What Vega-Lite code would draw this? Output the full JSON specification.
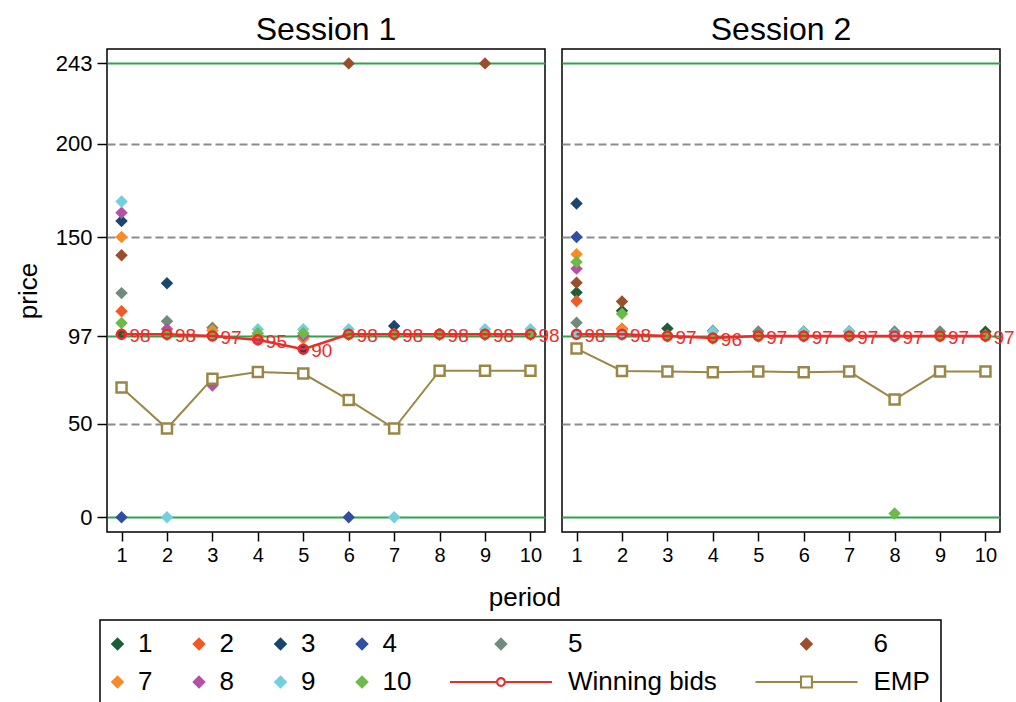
{
  "$schema": "https://vega.github.io/schema/vega-lite/v6.json",
  "background": "white",
  "padding": {"left": 15, "top": 14, "right": 5, "bottom": 0},
  "bounds": "flush",
  "config": {
    "font": "Liberation Sans",
    "view": {"stroke": "#000000", "strokeWidth": 1.5},
    "axis": {"domain": false, "tickColor": "#000000", "tickWidth": 1.5, "labelColor": "#000000", "titleColor": "#000000", "labelFont": "Liberation Sans", "titleFont": "Liberation Sans", "titleFontWeight": "normal"},
    "legend": {
      "orient": "none", "legendX": -7, "legendY": 571, "direction": "horizontal", "columns": 6, "columnPadding": 38.5, "rowPadding": 12, "padding": 11,
      "strokeColor": "#000000", "strokeWidth": 1.5, "fillColor": "white",
      "labelFont": "Liberation Sans", "labelFontSize": 26, "labelColor": "#000000", "labelOffset": 1, "labelLimit": 400,
      "symbolSize": 676, "symbolStrokeWidth": 0, "symbolOpacity": 1, "gridAlign": "each"
    }
  },
  "data": {"values": [
    {"session":"Session 1","period":1,"series":"1","kind":"bid","price":98},
    {"session":"Session 1","period":1,"series":"2","kind":"bid","price":110.3},
    {"session":"Session 1","period":1,"series":"3","kind":"bid","price":158.6},
    {"session":"Session 1","period":1,"series":"4","kind":"bid","price":0},
    {"session":"Session 1","period":1,"series":"5","kind":"bid","price":120},
    {"session":"Session 1","period":1,"series":"6","kind":"bid","price":140.3},
    {"session":"Session 1","period":1,"series":"7","kind":"bid","price":150},
    {"session":"Session 1","period":1,"series":"8","kind":"bid","price":163},
    {"session":"Session 1","period":1,"series":"9","kind":"bid","price":169},
    {"session":"Session 1","period":1,"series":"10","kind":"bid","price":104},
    {"session":"Session 1","period":2,"series":"1","kind":"bid","price":98},
    {"session":"Session 1","period":2,"series":"2","kind":"bid","price":98},
    {"session":"Session 1","period":2,"series":"3","kind":"bid","price":125.3},
    {"session":"Session 1","period":2,"series":"4","kind":"bid","price":98},
    {"session":"Session 1","period":2,"series":"5","kind":"bid","price":105},
    {"session":"Session 1","period":2,"series":"6","kind":"bid","price":98},
    {"session":"Session 1","period":2,"series":"7","kind":"bid","price":98},
    {"session":"Session 1","period":2,"series":"8","kind":"bid","price":100.8},
    {"session":"Session 1","period":2,"series":"9","kind":"bid","price":0},
    {"session":"Session 1","period":2,"series":"10","kind":"bid","price":98},
    {"session":"Session 1","period":3,"series":"1","kind":"bid","price":97.5},
    {"session":"Session 1","period":3,"series":"2","kind":"bid","price":97.5},
    {"session":"Session 1","period":3,"series":"3","kind":"bid","price":97.5},
    {"session":"Session 1","period":3,"series":"4","kind":"bid","price":97.5},
    {"session":"Session 1","period":3,"series":"5","kind":"bid","price":101.5},
    {"session":"Session 1","period":3,"series":"6","kind":"bid","price":97.5},
    {"session":"Session 1","period":3,"series":"7","kind":"bid","price":100},
    {"session":"Session 1","period":3,"series":"8","kind":"bid","price":70.5},
    {"session":"Session 1","period":3,"series":"9","kind":"bid","price":97.5},
    {"session":"Session 1","period":3,"series":"10","kind":"bid","price":98},
    {"session":"Session 1","period":4,"series":"1","kind":"bid","price":97},
    {"session":"Session 1","period":4,"series":"2","kind":"bid","price":97},
    {"session":"Session 1","period":4,"series":"3","kind":"bid","price":97},
    {"session":"Session 1","period":4,"series":"4","kind":"bid","price":97},
    {"session":"Session 1","period":4,"series":"5","kind":"bid","price":97},
    {"session":"Session 1","period":4,"series":"6","kind":"bid","price":97},
    {"session":"Session 1","period":4,"series":"7","kind":"bid","price":97},
    {"session":"Session 1","period":4,"series":"8","kind":"bid","price":95},
    {"session":"Session 1","period":4,"series":"9","kind":"bid","price":100.6},
    {"session":"Session 1","period":4,"series":"10","kind":"bid","price":98.5},
    {"session":"Session 1","period":5,"series":"1","kind":"bid","price":97},
    {"session":"Session 1","period":5,"series":"2","kind":"bid","price":97},
    {"session":"Session 1","period":5,"series":"3","kind":"bid","price":90},
    {"session":"Session 1","period":5,"series":"4","kind":"bid","price":97},
    {"session":"Session 1","period":5,"series":"5","kind":"bid","price":97},
    {"session":"Session 1","period":5,"series":"6","kind":"bid","price":97},
    {"session":"Session 1","period":5,"series":"7","kind":"bid","price":95.5},
    {"session":"Session 1","period":5,"series":"8","kind":"bid","price":97},
    {"session":"Session 1","period":5,"series":"9","kind":"bid","price":100.6},
    {"session":"Session 1","period":5,"series":"10","kind":"bid","price":98.5},
    {"session":"Session 1","period":6,"series":"1","kind":"bid","price":98},
    {"session":"Session 1","period":6,"series":"2","kind":"bid","price":98},
    {"session":"Session 1","period":6,"series":"3","kind":"bid","price":98},
    {"session":"Session 1","period":6,"series":"4","kind":"bid","price":0},
    {"session":"Session 1","period":6,"series":"5","kind":"bid","price":98},
    {"session":"Session 1","period":6,"series":"6","kind":"bid","price":243},
    {"session":"Session 1","period":6,"series":"7","kind":"bid","price":98},
    {"session":"Session 1","period":6,"series":"8","kind":"bid","price":98},
    {"session":"Session 1","period":6,"series":"9","kind":"bid","price":100.6},
    {"session":"Session 1","period":6,"series":"10","kind":"bid","price":98},
    {"session":"Session 1","period":7,"series":"1","kind":"bid","price":98},
    {"session":"Session 1","period":7,"series":"2","kind":"bid","price":98},
    {"session":"Session 1","period":7,"series":"3","kind":"bid","price":102.4},
    {"session":"Session 1","period":7,"series":"4","kind":"bid","price":98},
    {"session":"Session 1","period":7,"series":"5","kind":"bid","price":98},
    {"session":"Session 1","period":7,"series":"6","kind":"bid","price":98},
    {"session":"Session 1","period":7,"series":"7","kind":"bid","price":98},
    {"session":"Session 1","period":7,"series":"8","kind":"bid","price":98},
    {"session":"Session 1","period":7,"series":"9","kind":"bid","price":0},
    {"session":"Session 1","period":7,"series":"10","kind":"bid","price":98},
    {"session":"Session 1","period":8,"series":"1","kind":"bid","price":98},
    {"session":"Session 1","period":8,"series":"2","kind":"bid","price":98},
    {"session":"Session 1","period":8,"series":"3","kind":"bid","price":98},
    {"session":"Session 1","period":8,"series":"4","kind":"bid","price":98},
    {"session":"Session 1","period":8,"series":"5","kind":"bid","price":98},
    {"session":"Session 1","period":8,"series":"6","kind":"bid","price":98},
    {"session":"Session 1","period":8,"series":"7","kind":"bid","price":98},
    {"session":"Session 1","period":8,"series":"8","kind":"bid","price":98},
    {"session":"Session 1","period":8,"series":"9","kind":"bid","price":98},
    {"session":"Session 1","period":8,"series":"10","kind":"bid","price":98},
    {"session":"Session 1","period":9,"series":"1","kind":"bid","price":98},
    {"session":"Session 1","period":9,"series":"2","kind":"bid","price":98},
    {"session":"Session 1","period":9,"series":"3","kind":"bid","price":98},
    {"session":"Session 1","period":9,"series":"4","kind":"bid","price":98},
    {"session":"Session 1","period":9,"series":"5","kind":"bid","price":98},
    {"session":"Session 1","period":9,"series":"6","kind":"bid","price":243},
    {"session":"Session 1","period":9,"series":"7","kind":"bid","price":98},
    {"session":"Session 1","period":9,"series":"8","kind":"bid","price":98},
    {"session":"Session 1","period":9,"series":"9","kind":"bid","price":100.6},
    {"session":"Session 1","period":9,"series":"10","kind":"bid","price":98},
    {"session":"Session 1","period":10,"series":"1","kind":"bid","price":98},
    {"session":"Session 1","period":10,"series":"2","kind":"bid","price":98},
    {"session":"Session 1","period":10,"series":"3","kind":"bid","price":98},
    {"session":"Session 1","period":10,"series":"4","kind":"bid","price":98},
    {"session":"Session 1","period":10,"series":"5","kind":"bid","price":98},
    {"session":"Session 1","period":10,"series":"6","kind":"bid","price":98},
    {"session":"Session 1","period":10,"series":"7","kind":"bid","price":98},
    {"session":"Session 1","period":10,"series":"8","kind":"bid","price":98},
    {"session":"Session 1","period":10,"series":"9","kind":"bid","price":100.6},
    {"session":"Session 1","period":10,"series":"10","kind":"bid","price":98},
    {"session":"Session 2","period":1,"series":"1","kind":"bid","price":120.3},
    {"session":"Session 2","period":1,"series":"2","kind":"bid","price":115.8},
    {"session":"Session 2","period":1,"series":"3","kind":"bid","price":168},
    {"session":"Session 2","period":1,"series":"4","kind":"bid","price":150},
    {"session":"Session 2","period":1,"series":"5","kind":"bid","price":104.2},
    {"session":"Session 2","period":1,"series":"6","kind":"bid","price":125.6},
    {"session":"Session 2","period":1,"series":"7","kind":"bid","price":140.8},
    {"session":"Session 2","period":1,"series":"8","kind":"bid","price":133.1},
    {"session":"Session 2","period":1,"series":"9","kind":"bid","price":98},
    {"session":"Session 2","period":1,"series":"10","kind":"bid","price":136.7},
    {"session":"Session 2","period":2,"series":"1","kind":"bid","price":110.5},
    {"session":"Session 2","period":2,"series":"2","kind":"bid","price":101},
    {"session":"Session 2","period":2,"series":"3","kind":"bid","price":98},
    {"session":"Session 2","period":2,"series":"4","kind":"bid","price":98},
    {"session":"Session 2","period":2,"series":"5","kind":"bid","price":98},
    {"session":"Session 2","period":2,"series":"6","kind":"bid","price":115.5},
    {"session":"Session 2","period":2,"series":"7","kind":"bid","price":100.5},
    {"session":"Session 2","period":2,"series":"8","kind":"bid","price":98},
    {"session":"Session 2","period":2,"series":"9","kind":"bid","price":98},
    {"session":"Session 2","period":2,"series":"10","kind":"bid","price":109},
    {"session":"Session 2","period":3,"series":"1","kind":"bid","price":101},
    {"session":"Session 2","period":3,"series":"2","kind":"bid","price":97},
    {"session":"Session 2","period":3,"series":"3","kind":"bid","price":97},
    {"session":"Session 2","period":3,"series":"4","kind":"bid","price":97},
    {"session":"Session 2","period":3,"series":"5","kind":"bid","price":97},
    {"session":"Session 2","period":3,"series":"6","kind":"bid","price":97},
    {"session":"Session 2","period":3,"series":"7","kind":"bid","price":97},
    {"session":"Session 2","period":3,"series":"8","kind":"bid","price":97},
    {"session":"Session 2","period":3,"series":"9","kind":"bid","price":97},
    {"session":"Session 2","period":3,"series":"10","kind":"bid","price":97},
    {"session":"Session 2","period":4,"series":"1","kind":"bid","price":96},
    {"session":"Session 2","period":4,"series":"2","kind":"bid","price":96},
    {"session":"Session 2","period":4,"series":"3","kind":"bid","price":96},
    {"session":"Session 2","period":4,"series":"4","kind":"bid","price":96},
    {"session":"Session 2","period":4,"series":"5","kind":"bid","price":99.8},
    {"session":"Session 2","period":4,"series":"6","kind":"bid","price":96},
    {"session":"Session 2","period":4,"series":"7","kind":"bid","price":96},
    {"session":"Session 2","period":4,"series":"8","kind":"bid","price":96},
    {"session":"Session 2","period":4,"series":"9","kind":"bid","price":99.3},
    {"session":"Session 2","period":4,"series":"10","kind":"bid","price":96},
    {"session":"Session 2","period":5,"series":"1","kind":"bid","price":97},
    {"session":"Session 2","period":5,"series":"2","kind":"bid","price":97},
    {"session":"Session 2","period":5,"series":"3","kind":"bid","price":97},
    {"session":"Session 2","period":5,"series":"4","kind":"bid","price":97},
    {"session":"Session 2","period":5,"series":"5","kind":"bid","price":99.5},
    {"session":"Session 2","period":5,"series":"6","kind":"bid","price":97},
    {"session":"Session 2","period":5,"series":"7","kind":"bid","price":97},
    {"session":"Session 2","period":5,"series":"8","kind":"bid","price":97},
    {"session":"Session 2","period":5,"series":"9","kind":"bid","price":97},
    {"session":"Session 2","period":5,"series":"10","kind":"bid","price":97},
    {"session":"Session 2","period":6,"series":"1","kind":"bid","price":97},
    {"session":"Session 2","period":6,"series":"2","kind":"bid","price":97},
    {"session":"Session 2","period":6,"series":"3","kind":"bid","price":97},
    {"session":"Session 2","period":6,"series":"4","kind":"bid","price":97},
    {"session":"Session 2","period":6,"series":"5","kind":"bid","price":99.5},
    {"session":"Session 2","period":6,"series":"6","kind":"bid","price":97},
    {"session":"Session 2","period":6,"series":"7","kind":"bid","price":97},
    {"session":"Session 2","period":6,"series":"8","kind":"bid","price":97},
    {"session":"Session 2","period":6,"series":"9","kind":"bid","price":99},
    {"session":"Session 2","period":6,"series":"10","kind":"bid","price":97},
    {"session":"Session 2","period":7,"series":"1","kind":"bid","price":97},
    {"session":"Session 2","period":7,"series":"2","kind":"bid","price":97},
    {"session":"Session 2","period":7,"series":"3","kind":"bid","price":97},
    {"session":"Session 2","period":7,"series":"4","kind":"bid","price":97},
    {"session":"Session 2","period":7,"series":"5","kind":"bid","price":99.6},
    {"session":"Session 2","period":7,"series":"6","kind":"bid","price":97},
    {"session":"Session 2","period":7,"series":"7","kind":"bid","price":97},
    {"session":"Session 2","period":7,"series":"8","kind":"bid","price":97},
    {"session":"Session 2","period":7,"series":"9","kind":"bid","price":99.3},
    {"session":"Session 2","period":7,"series":"10","kind":"bid","price":97},
    {"session":"Session 2","period":8,"series":"1","kind":"bid","price":97},
    {"session":"Session 2","period":8,"series":"2","kind":"bid","price":97},
    {"session":"Session 2","period":8,"series":"3","kind":"bid","price":97},
    {"session":"Session 2","period":8,"series":"4","kind":"bid","price":97},
    {"session":"Session 2","period":8,"series":"5","kind":"bid","price":99.5},
    {"session":"Session 2","period":8,"series":"6","kind":"bid","price":97},
    {"session":"Session 2","period":8,"series":"7","kind":"bid","price":97},
    {"session":"Session 2","period":8,"series":"8","kind":"bid","price":97},
    {"session":"Session 2","period":8,"series":"9","kind":"bid","price":98},
    {"session":"Session 2","period":8,"series":"10","kind":"bid","price":2},
    {"session":"Session 2","period":9,"series":"1","kind":"bid","price":97},
    {"session":"Session 2","period":9,"series":"2","kind":"bid","price":97},
    {"session":"Session 2","period":9,"series":"3","kind":"bid","price":97},
    {"session":"Session 2","period":9,"series":"4","kind":"bid","price":97},
    {"session":"Session 2","period":9,"series":"5","kind":"bid","price":99.5},
    {"session":"Session 2","period":9,"series":"6","kind":"bid","price":97},
    {"session":"Session 2","period":9,"series":"7","kind":"bid","price":97},
    {"session":"Session 2","period":9,"series":"8","kind":"bid","price":97},
    {"session":"Session 2","period":9,"series":"9","kind":"bid","price":97},
    {"session":"Session 2","period":9,"series":"10","kind":"bid","price":97},
    {"session":"Session 2","period":10,"series":"1","kind":"bid","price":99.3},
    {"session":"Session 2","period":10,"series":"2","kind":"bid","price":97},
    {"session":"Session 2","period":10,"series":"3","kind":"bid","price":97},
    {"session":"Session 2","period":10,"series":"4","kind":"bid","price":97},
    {"session":"Session 2","period":10,"series":"5","kind":"bid","price":97},
    {"session":"Session 2","period":10,"series":"6","kind":"bid","price":97},
    {"session":"Session 2","period":10,"series":"7","kind":"bid","price":97},
    {"session":"Session 2","period":10,"series":"8","kind":"bid","price":97},
    {"session":"Session 2","period":10,"series":"9","kind":"bid","price":97},
    {"session":"Session 2","period":10,"series":"10","kind":"bid","price":97.5},
    {"session":"Session 1","period":1,"series":"Winning bids","kind":"win","price":98},
    {"session":"Session 1","period":2,"series":"Winning bids","kind":"win","price":98},
    {"session":"Session 1","period":3,"series":"Winning bids","kind":"win","price":97},
    {"session":"Session 1","period":4,"series":"Winning bids","kind":"win","price":95},
    {"session":"Session 1","period":5,"series":"Winning bids","kind":"win","price":90},
    {"session":"Session 1","period":6,"series":"Winning bids","kind":"win","price":98},
    {"session":"Session 1","period":7,"series":"Winning bids","kind":"win","price":98},
    {"session":"Session 1","period":8,"series":"Winning bids","kind":"win","price":98},
    {"session":"Session 1","period":9,"series":"Winning bids","kind":"win","price":98},
    {"session":"Session 1","period":10,"series":"Winning bids","kind":"win","price":98},
    {"session":"Session 2","period":1,"series":"Winning bids","kind":"win","price":98},
    {"session":"Session 2","period":2,"series":"Winning bids","kind":"win","price":98},
    {"session":"Session 2","period":3,"series":"Winning bids","kind":"win","price":97},
    {"session":"Session 2","period":4,"series":"Winning bids","kind":"win","price":96},
    {"session":"Session 2","period":5,"series":"Winning bids","kind":"win","price":97},
    {"session":"Session 2","period":6,"series":"Winning bids","kind":"win","price":97},
    {"session":"Session 2","period":7,"series":"Winning bids","kind":"win","price":97},
    {"session":"Session 2","period":8,"series":"Winning bids","kind":"win","price":97},
    {"session":"Session 2","period":9,"series":"Winning bids","kind":"win","price":97},
    {"session":"Session 2","period":10,"series":"Winning bids","kind":"win","price":97},
    {"session":"Session 1","period":1,"series":"EMP","kind":"emp","price":69.5},
    {"session":"Session 1","period":2,"series":"EMP","kind":"emp","price":47.5},
    {"session":"Session 1","period":3,"series":"EMP","kind":"emp","price":74.2},
    {"session":"Session 1","period":4,"series":"EMP","kind":"emp","price":77.8},
    {"session":"Session 1","period":5,"series":"EMP","kind":"emp","price":76.9},
    {"session":"Session 1","period":6,"series":"EMP","kind":"emp","price":62.8},
    {"session":"Session 1","period":7,"series":"EMP","kind":"emp","price":47.5},
    {"session":"Session 1","period":8,"series":"EMP","kind":"emp","price":78.5},
    {"session":"Session 1","period":9,"series":"EMP","kind":"emp","price":78.5},
    {"session":"Session 1","period":10,"series":"EMP","kind":"emp","price":78.5},
    {"session":"Session 2","period":1,"series":"EMP","kind":"emp","price":90.3},
    {"session":"Session 2","period":2,"series":"EMP","kind":"emp","price":78.3},
    {"session":"Session 2","period":3,"series":"EMP","kind":"emp","price":78},
    {"session":"Session 2","period":4,"series":"EMP","kind":"emp","price":77.6},
    {"session":"Session 2","period":5,"series":"EMP","kind":"emp","price":78},
    {"session":"Session 2","period":6,"series":"EMP","kind":"emp","price":77.6},
    {"session":"Session 2","period":7,"series":"EMP","kind":"emp","price":78},
    {"session":"Session 2","period":8,"series":"EMP","kind":"emp","price":63},
    {"session":"Session 2","period":9,"series":"EMP","kind":"emp","price":78},
    {"session":"Session 2","period":10,"series":"EMP","kind":"emp","price":78}
  ]},
  "facet": {"column": {"field": "session", "type": "nominal", "header": {
    "title": "period", "titleOrient": "bottom", "titleFontSize": 26, "titleFont": "Liberation Sans", "titleFontWeight": "normal", "titleColor": "#000000", "titleAnchor": "middle", "titleAlign": "right", "titlePadding": 10,
    "labelFontSize": 32, "labelFont": "Liberation Sans", "labelColor": "#000000", "labelOrient": "top", "labelPadding": 2
  }}},
  "spacing": 17,
  "spec": {
    "width": 438,
    "height": 483,
    "encoding": {
      "x": {"field": "period", "type": "quantitative", "scale": {"domain": [0.68, 10.32], "nice": false, "zero": false},
        "axis": {"values": [1,2,3,4,5,6,7,8,9,10], "format": "d", "title": null, "labelFontSize": 20, "tickSize": 9, "labelPadding": 4, "grid": false}},
      "y": {"field": "price", "type": "quantitative", "scale": {"domain": [-7.9, 250.7], "nice": false, "zero": false},
        "axis": {"values": [0, 50, 97, 150, 200, 243], "title": "price", "titleFontSize": 26, "labelFontSize": 22, "tickSize": 10, "labelPadding": 5, "titlePadding": 14, "grid": true,
          "gridColor": {"condition": {"test": "datum.value === 0 || datum.value === 97 || datum.value === 243", "value": "#2fa24e"}, "value": "#8c8c8c"},
          "gridDash": {"condition": {"test": "datum.value === 0 || datum.value === 97 || datum.value === 243", "value": []}, "value": [8, 4]},
          "gridWidth": 2}}
    },
    "layer": [
      {
        "transform": [{"filter": "datum.kind === 'legendonly'"}],
        "mark": {"type": "point", "filled": true, "opacity": 1},
        "encoding": {
          "color": {"field": "series", "type": "nominal",
            "scale": {"domain": ["1","2","3","4","5","6","7","8","9","10","Winning bids","EMP"],
              "range": ["#1b5e37","#f15a25","#19466e","#2f4fa3","#6e8b7d","#9b4e2b","#f98a26","#b451a5","#72cfdf","#6cbb46","#ee2b27","#9b8745"]},
            "legend": {"title": null}},
          "shape": {"field": "series", "type": "nominal",
            "scale": {"domain": ["1","2","3","4","5","6","7","8","9","10","Winning bids","EMP"],
              "range": [
                "M-0.5,-0.52L0.02,0L-0.5,0.52L-1.02,0Z",
                "M-0.5,-0.52L0.02,0L-0.5,0.52L-1.02,0Z",
                "M-0.5,-0.52L0.02,0L-0.5,0.52L-1.02,0Z",
                "M-0.5,-0.52L0.02,0L-0.5,0.52L-1.02,0Z",
                "M-4.08,-0.52L-3.56,0L-4.08,0.52L-4.6,0Z",
                "M-4.08,-0.52L-3.56,0L-4.08,0.52L-4.6,0Z",
                "M-0.5,-0.52L0.02,0L-0.5,0.52L-1.02,0Z",
                "M-0.5,-0.52L0.02,0L-0.5,0.52L-1.02,0Z",
                "M-0.5,-0.52L0.02,0L-0.5,0.52L-1.02,0Z",
                "M-0.5,-0.52L0.02,0L-0.5,0.52L-1.02,0Z",
                "M-8,-0.075L-4.46,-0.075L-4.46,0.075L-8,0.075Z M-3.7,-0.075L-0.15,-0.075L-0.15,0.075L-3.7,0.075Z M-3.7,0A0.38,0.38,0,1,1,-4.46,0A0.38,0.38,0,1,1,-3.7,0Z M-3.86,0A0.22,0.22,0,1,0,-4.3,0A0.22,0.22,0,1,0,-3.86,0Z",
                "M-8,-0.07L-4.58,-0.07L-4.58,0.07L-8,0.07Z M-3.58,-0.07L-0.15,-0.07L-0.15,0.07L-3.58,0.07Z M-4.58,-0.5L-3.58,-0.5L-3.58,0.5L-4.58,0.5Z M-4.42,-0.34L-4.42,0.34L-3.74,0.34L-3.74,-0.34Z"
              ]},
            "legend": {"title": null}}
        }
      },
      {
        "transform": [{"filter": "datum.kind === 'bid'"}],
        "mark": {"type": "point", "shape": "diamond", "filled": true, "size": 155, "opacity": 1, "strokeWidth": 0},
        "encoding": {
          "color": {"field": "series", "type": "nominal",
            "scale": {"domain": ["1","2","3","4","5","6","7","8","9","10","Winning bids","EMP"],
              "range": ["#1b5e37","#f15a25","#19466e","#2f4fa3","#6e8b7d","#9b4e2b","#f98a26","#b451a5","#72cfdf","#6cbb46","#ee2b27","#9b8745"]},
            "legend": {"title": null}}
        }
      },
      {
        "transform": [{"filter": "datum.kind === 'win'"}],
        "mark": {"type": "line", "color": "#ee2b27", "strokeWidth": 2.5},
        "encoding": {}
      },
      {
        "transform": [{"filter": "datum.kind === 'win'"}],
        "mark": {"type": "point", "shape": "circle", "filled": false, "stroke": "#ee2b27", "strokeWidth": 2.5, "size": 80, "opacity": 1},
        "encoding": {}
      },
      {
        "transform": [{"filter": "datum.kind === 'win'"}],
        "mark": {"type": "text", "align": "left", "baseline": "middle", "dx": 8, "dy": 2, "fontSize": 19, "color": "#ee2b27", "font": "Liberation Sans"},
        "encoding": {"text": {"field": "price", "type": "quantitative", "format": "d"}}
      },
      {
        "transform": [{"filter": "datum.kind === 'emp'"}],
        "mark": {"type": "line", "color": "#9b8745", "strokeWidth": 2},
        "encoding": {}
      },
      {
        "transform": [{"filter": "datum.kind === 'emp'"}],
        "mark": {"type": "point", "shape": "square", "filled": true, "fill": "white", "stroke": "#9b8745", "strokeWidth": 2.5, "size": 100, "opacity": 1},
        "encoding": {}
      }
    ]
  }
}
